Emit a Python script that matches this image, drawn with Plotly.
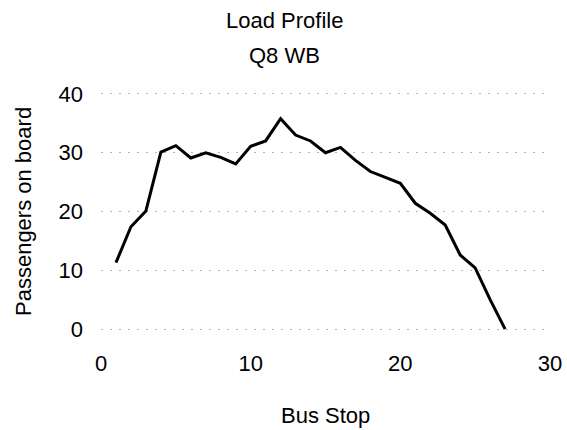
import plotly.graph_objects as go

bus_stops = list(range(1, 28))
passengers = [11.3, 17.4, 20.1, 30.1, 31.2, 29.1, 30.0, 29.2, 28.1, 31.1,
              32.0, 35.8, 33.0, 32.0, 30.0, 30.9, 28.7, 26.8, 25.8, 24.8,
              21.4, 19.7, 17.7, 12.6, 10.4, 5.0, 0.0]
x_ticks = [0, 10, 20, 30]
y_ticks = [0, 10, 20, 30, 40]
title_lines = ["Load Profile", "Q8 WB"]
x_title = "Bus Stop"
y_title = "Passengers on board"

FONT = "Liberation Sans, Arial, sans-serif"

fig = go.Figure()
fig.add_trace(go.Scatter(x=bus_stops, y=passengers, mode="lines",
                         line=dict(color="black", width=3), showlegend=False,
                         hoverinfo="skip"))

W, H = 567, 430
L, R, T, B = 101, 17, 91, 98
pw, ph = W - L - R, H - T - B


def py2paper(py):
    return (H - B - py) / ph


def px2paper(px):
    return (px - L) / pw


def label(text, px, py, angle=0):
    fig.add_annotation(text=text, xref="paper", yref="paper",
                       x=px2paper(px), y=py2paper(py), showarrow=False,
                       xanchor="center", yanchor="middle", textangle=angle,
                       font=dict(family=FONT, size=22, color="black"))


label(title_lines[0], 284, 21)
label(title_lines[1], 284, 55)
label(x_title, 325, 415)
label(y_title, 23, 212, angle=-90)

fig.update_layout(
    width=W, height=H,
    margin=dict(l=L, r=R, t=T, b=B, pad=0, autoexpand=False),
    paper_bgcolor="white", plot_bgcolor="white",
    font=dict(family=FONT, size=22, color="black"),
    xaxis=dict(range=[0, 30], tickvals=x_ticks, showgrid=False, zeroline=False,
               showline=False, ticks="", ticklabelstandoff=16, automargin=False),
    yaxis=dict(range=[-0.5, 40.5], tickvals=y_ticks, showgrid=True,
               gridcolor="#b4b4b4", gridwidth=1, griddash="2px,7px",
               zeroline=False, showline=False, ticks="", ticklabelstandoff=17,
               automargin=False),
)

fig.write_html("out.html",
               config={"displayModeBar": False},
               post_script="document.body.style.margin='0';"
                           "document.body.style.overflow='hidden';")
